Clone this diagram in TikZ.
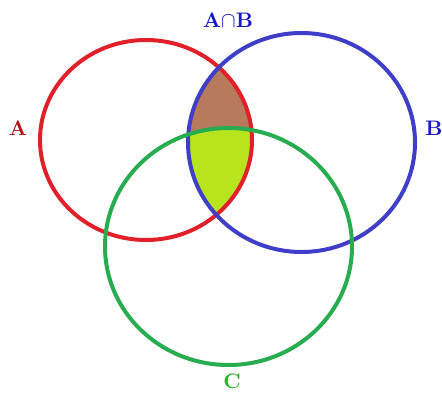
\documentclass[tikz,border=0pt]{standalone}
\usepackage{amssymb}
\usepackage{tikz}
\definecolor{redc}{RGB}{226,32,42}\definecolor{bluec}{RGB}{62,62,200}\definecolor{greenc}{RGB}{40,172,80}
\definecolor{brownc}{RGB}{184,122,92}\definecolor{limec}{RGB}{184,228,30}
\definecolor{labA}{RGB}{180,20,24}\definecolor{labB}{RGB}{24,24,200}\definecolor{labC}{RGB}{40,180,40}
\tikzset{ring/.style={line width=2pt},lab/.style={font=\fontsize{10.5}{12}\selectfont\bfseries,inner sep=0pt}}
\begin{document}
\begin{tikzpicture}[x=0.5pt,y=-0.5pt]
\useasboundingbox(0,0)rectangle(442,394);
\begin{scope}\clip(146,140)ellipse[x radius=106,y radius=100];\clip(301.5,142.5)ellipse[x radius=113.5,y radius=109.5];
\fill[brownc](0,0)rectangle(442,394);\fill[limec](228.5,246.5)ellipse[x radius=123.5,y radius=118.5];\end{scope}
\draw[ring,redc](146,140)ellipse[x radius=106,y radius=100];
\draw[ring,bluec](301.5,142.5)ellipse[x radius=113.5,y radius=109.5];
\draw[ring,greenc](228.5,246.5)ellipse[x radius=123.5,y radius=118.5];
\node[lab,labA](la)at(18,128){A};\node[lab,labB](lb)at(434,128){B};
\node[lab,labB](lab)at(228,20){A$\cap$B};\node[lab,labC](lc)at(232,381){C};
\end{tikzpicture}
\end{document}
